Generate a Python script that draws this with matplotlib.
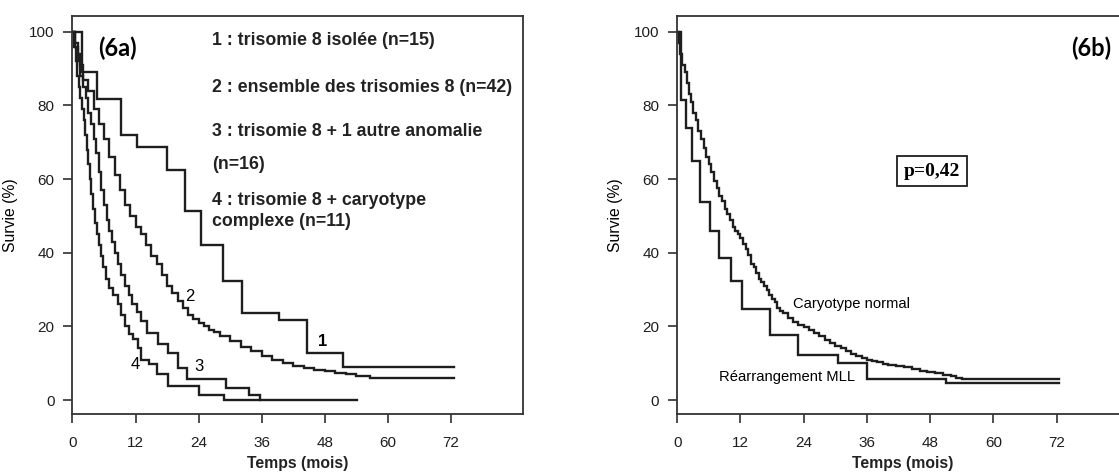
import matplotlib
matplotlib.use('Agg')
from matplotlib import pyplot as plt

plt.rcParams['font.family'] = ['Liberation Sans', 'DejaVu Sans']

# Kaplan-Meier steps, (6a): time in months, survival in %
t1 = [0, 1.9, 4.7, 9.2, 12.2, 18.0, 21.4, 24.5, 28.7, 32.3, 39.2, 44.6, 51.4]
s1 = [100, 89.2, 81.8, 72.0, 68.8, 62.5, 51.4, 42.1, 32.2, 23.7, 21.6, 12.7, 9.1]
end1 = 72.5

t2 = [0, 0.5, 1, 1.5, 2, 3, 4, 5, 6, 7, 8, 9, 10, 11, 12, 13, 14, 15, 16, 17,
      18, 19, 20, 21, 22, 23, 24, 25, 26, 27, 28, 30, 32, 34, 36, 38, 40, 42,
      44, 46, 48, 50, 52, 54, 56.5]
s2 = [100, 97, 94, 91, 87, 84, 79, 75, 71, 66, 61, 57, 53, 50, 47, 45, 42, 39,
      37, 34, 31, 29, 27, 25, 23, 22, 21, 20, 19, 18.5, 17.5, 16, 14.5, 13.3,
      12, 10.8, 10, 9.3, 8.7, 8.2, 7.8, 7.3, 7, 6.6, 6.1]
end2 = 72.5

t3 = [0, 0.5, 1.0, 1.5, 2.0, 2.5, 3.0, 3.5, 4.0, 4.5, 5.0, 5.5, 6.0, 6.5, 7.0,
      7.5, 8.0, 8.7, 9.3, 10.0, 10.7, 11.4, 12.2, 13.0, 14.2, 16.2, 18.2, 20.1,
      21.7, 29.2, 33.5, 35.6]
s3 = [100, 96, 92, 88, 85, 82, 78, 75, 71, 67, 62, 57, 53, 49, 46, 43, 40, 37,
      34, 31, 28.5, 26, 24, 21.5, 18.1, 15.2, 12.7, 8.8, 5.8, 3.2, 1.4, 0]
end3 = 54.1

t4 = [0, 0.3, 0.6, 0.9, 1.2, 1.5, 1.8, 2.1, 2.4, 2.7, 3.0, 3.3, 3.6, 3.9, 4.2,
      4.6, 5.0, 5.4, 5.9, 6.4, 7.0, 7.8, 8.6, 9.3, 10.0, 10.8, 11.5, 12.4, 13.0,
      14.6, 16.1, 18.2, 24.1, 28.9]
s4 = [100, 96, 92, 88, 85, 82, 79, 76, 72, 68, 64, 60, 56, 52, 48, 45, 42, 39,
      36, 33, 30.5, 28.5, 26, 23, 20, 18, 16.5, 14.0, 10.9, 9.8, 7.0, 3.9, 1.4, 0]
end4 = 35.6

# (6b): normal karyotype vs MLL rearrangement
t_norm = [0, 0.3, 0.6, 1.0, 1.4, 1.8, 2.2, 2.6, 3.0, 3.5, 4.0, 4.5, 5.0, 5.5,
          6.0, 6.5, 7.0, 7.5, 8.0, 8.5, 9.0, 9.5, 10.0, 10.5, 11.0, 11.5, 12.0,
          12.5, 13.0, 13.5, 14.0, 14.5, 15.0, 15.5, 16.0, 16.5, 17.0, 17.5,
          18.0, 18.5, 19.0, 19.5, 20.0, 21.0, 22.0, 23.0, 24.0, 25.0, 26.0,
          27.0, 28.0, 29.0, 30.0, 31.0, 32.0, 33.0, 34.0, 35.0, 36.0, 37.0,
          38.0, 39.0, 40.0, 41.5, 43.0, 44.5, 46.0, 47.5, 49.0, 50.5, 52.0,
          53.0, 54.0]
s_norm = [100, 97, 94, 91, 89, 86, 83, 81, 78, 76, 73, 71, 68.5, 66, 64, 62,
          59.5, 57.5, 55.5, 54, 52, 50.5, 49, 47, 46, 45, 44, 42.5, 41, 39.5,
          37, 36, 34.5, 33, 32, 31, 30, 28.5, 27.5, 26.5, 25, 24.3, 23.5, 22.3,
          21.3, 20.4, 19.8, 19.0, 18.2, 17.3, 16.4, 15.6, 14.8, 14.0, 13.3,
          12.6, 12.0, 11.5, 11.0, 10.6, 10.2, 9.8, 9.5, 9.2, 8.9, 8.4, 8.0, 7.7,
          7.3, 6.9, 6.4, 6.0, 5.6]
end_norm = 72.4

t_mll = [0, 0.8, 1.7, 2.8, 4.4, 6.2, 8.0, 10.2, 12.3, 17.7, 23.0, 30.5, 36.0, 51.0]
s_mll = [100, 81.5, 73.8, 64.9, 53.9, 45.9, 38.5, 32.2, 24.6, 17.7, 12.2, 10.0, 5.6, 4.7]
end_mll = 72.4

xticks = [0, 12, 24, 36, 48, 60, 72]
yticks = [0, 20, 40, 60, 80, 100]

legend_a = ['1 : trisomie 8 isolée (n=15)',
            '2 : ensemble des trisomies 8 (n=42)',
            '3 : trisomie 8 + 1 autre anomalie',
            '(n=16)',
            '4 : trisomie 8 + caryotype',
            'complexe (n=11)']
legend_y = [97.6, 84.8, 72.8, 64.0, 54.3, 48.6]

INK = '#1e1e1e'


def km(ax, t, s, end, lw=1.7):
    ax.step(t + [end], s + [s[-1]], where='post', color=INK, lw=lw,
            solid_joinstyle='miter')


def style(ax):
    ax.set_xlim(-0.1, 85.7)
    ax.set_ylim(-3.8, 104.3)
    ax.set_xticks(xticks)
    ax.set_yticks(yticks)
    ax.tick_params(direction='out', length=6.5, width=1.1, colors=INK,
                   labelsize=11)
    ax.tick_params(axis='x', pad=9)
    ax.tick_params(axis='y', pad=6)
    for sp in ax.spines.values():
        sp.set_linewidth(1.3)
        sp.set_color('#333333')
    ax.set_xlabel('Temps (mois)', fontsize=11.3, fontweight='bold',
                  color='#222222', labelpad=5)
    ax.set_ylabel('Survie (%)', fontsize=11.3, labelpad=8)


fig = plt.figure(figsize=(11.19, 4.75), dpi=100)

# (6a)
ax1 = fig.add_axes([0.0643, 0.1284, 0.4031, 0.8379])
km(ax1, t1, s1, end1)
km(ax1, t2, s2, end2)
km(ax1, t3, s3, end3)
km(ax1, t4, s4, end4)
style(ax1)
ax1.text(4.8, 95.4, '(6a)', fontsize=17, fontweight='bold', family='Lato',
         ha='left', va='center')
for txt, y in zip(legend_a, legend_y):
    ax1.text(26.6, y, txt, fontsize=12.8, fontweight='bold', color='#222222',
             ha='left', va='center')
ax1.text(47.5, 15.8, '1', fontsize=12, fontweight='bold', ha='center', va='center')
ax1.text(22.4, 28.1, '2', fontsize=12, ha='center', va='center')
ax1.text(24.0, 9.1, '3', fontsize=12, ha='center', va='center')
ax1.text(12.0, 9.7, '4', fontsize=12, ha='center', va='center')

# (6b)
ax2 = fig.add_axes([0.6047, 0.1284, 0.4040, 0.8379])
km(ax2, t_norm, s_norm, end_norm)
km(ax2, t_mll, s_mll, end_mll)
style(ax2)
ax2.text(74.8, 95.5, '(6b)', fontsize=17, fontweight='bold', family='Lato',
         ha='left', va='center')
ax2.text(48.4, 62.2, 'p=0,42', fontsize=14, family='Liberation Serif',
         fontweight='bold', ha='center', va='center',
         bbox=dict(boxstyle='square,pad=0.35', fc='white', ec=INK, lw=1.3))
ax2.text(21.9, 26.1, 'Caryotype normal', fontsize=10.6, ha='left', va='center')
ax2.text(7.9, 6.3, 'Réarrangement MLL', fontsize=10.6, ha='left', va='center')

fig.savefig('out.png', dpi=100)
